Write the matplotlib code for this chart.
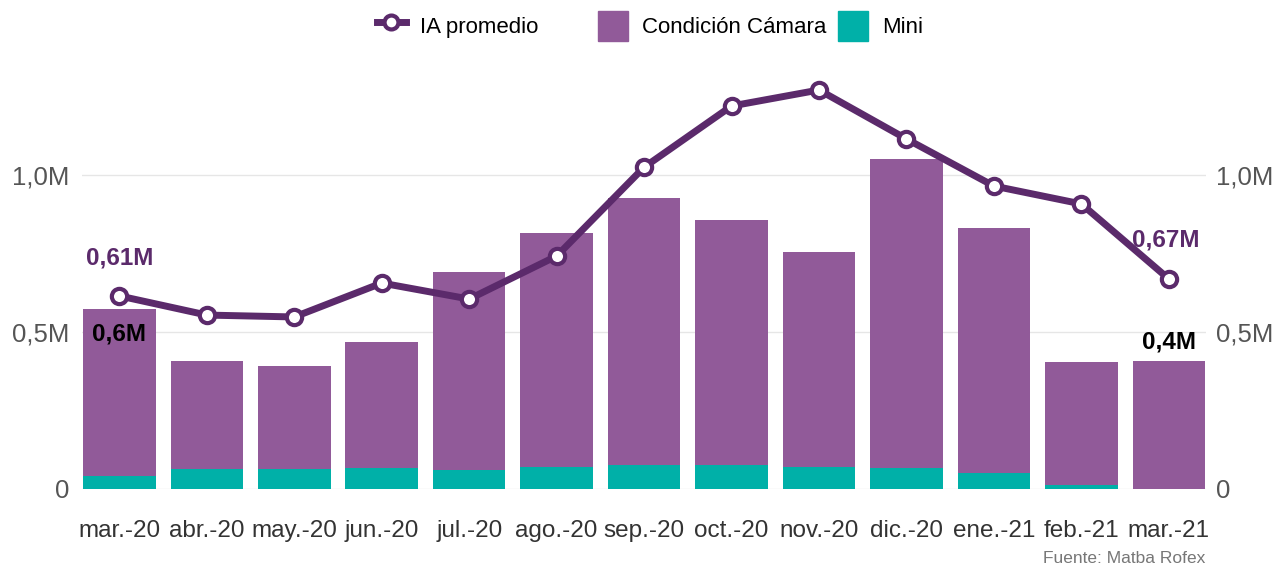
import matplotlib
matplotlib.use("Agg")
import matplotlib.pyplot as plt
from matplotlib.lines import Line2D
from matplotlib.patches import Patch

plt.rcParams['font.family'] = ['Liberation Sans', 'DejaVu Sans']

months = ["mar.-20", "abr.-20", "may.-20", "jun.-20", "jul.-20", "ago.-20", "sep.-20",
          "oct.-20", "nov.-20", "dic.-20", "ene.-21", "feb.-21", "mar.-21"]
total = [0.573, 0.408, 0.392, 0.468, 0.691, 0.815, 0.927, 0.857, 0.755, 1.051, 0.831, 0.404, 0.408]
mini = [0.041, 0.064, 0.064, 0.067, 0.061, 0.070, 0.076, 0.076, 0.070, 0.067, 0.051, 0.013, 0.0]
camara = [t - m for t, m in zip(total, mini)]
ia = [0.615, 0.554, 0.548, 0.656, 0.605, 0.742, 1.025, 1.220, 1.271, 1.115, 0.965, 0.908, 0.669]
yticks = [0, 0.5, 1.0]
ytick_labels = ["0", "0,5M", "1,0M"]

purple = "#915A99"
teal = "#00B0A8"
dark = "#5B2A6B"

fig = plt.figure(figsize=(12.78, 5.67), dpi=100)
ax = fig.add_axes([0.064, 0.1376, 0.88, 0.7214])
x = list(range(len(months)))
ax.bar(x, mini, width=0.83, color=teal, zorder=2)
ax.bar(x, camara, bottom=mini, width=0.83, color=purple, zorder=2)
ax.plot(x, ia, color=dark, lw=5, marker='o', markersize=11, markerfacecolor='white',
        markeredgecolor=dark, markeredgewidth=3, zorder=4)

ax.set_xlim(-0.43, 12.43)
ax.set_ylim(0, 1.303)
ax.set_yticks(yticks)
ax.set_yticklabels(ytick_labels)
ax.set_xticks(x)
ax.set_xticklabels(months)
ax.grid(axis='y', color='#E6E6E6', lw=1, zorder=0)
ax.set_axisbelow(True)
for s in ax.spines.values():
    s.set_visible(False)
ax.tick_params(axis='y', length=0, labelsize=18.5, labelcolor='#555555', pad=9)
ax.tick_params(axis='x', length=0, labelsize=17.5, labelcolor='#333333', pad=22)

ax2 = ax.twinx()
ax2.set_ylim(ax.get_ylim())
ax2.set_yticks(yticks)
ax2.set_yticklabels(ytick_labels)
for s in ax2.spines.values():
    s.set_visible(False)
ax2.tick_params(axis='y', length=0, labelsize=18.5, labelcolor='#555555', pad=7)

# data labels
ax.annotate("0,61M", (x[0], ia[0]), xytext=(0, 19), textcoords='offset points',
            ha='center', va='bottom', fontsize=17.5, fontweight='bold', color=dark, zorder=5)
ax.annotate("0,6M", (x[0], total[0]), xytext=(0, -10), textcoords='offset points',
            ha='center', va='top', fontsize=17.5, fontweight='bold', color='black', zorder=5)
ax.annotate("0,67M", (x[-1], ia[-1]), xytext=(-2, 20), textcoords='offset points',
            ha='center', va='bottom', fontsize=17.5, fontweight='bold', color=dark, zorder=5)
ax.annotate("0,4M", (x[-1], total[-1]), xytext=(0, 5), textcoords='offset points',
            ha='center', va='bottom', fontsize=17.5, fontweight='bold', color='black', zorder=5)

legend_items = [
    (Line2D([0], [0], color=dark, lw=5, marker='o', markersize=10, markerfacecolor='white',
            markeredgecolor=dark, markeredgewidth=3), "IA promedio", 377),
    (Patch(color=purple), "Condición Cámara", 598),
    (Patch(color=teal), "Mini", 838),
]
for h, lab, px in legend_items:
    fig.legend([h], [lab], loc='center left', bbox_to_anchor=(px / 1278, 0.955),
               frameon=False, fontsize=16, handlelength=1.3 if lab == "IA promedio" else 1.35,
               handleheight=1.7, handletextpad=0.65, borderpad=0, borderaxespad=0)

fig.text(0.943, 0.002, "Fuente: Matba Rofex", ha='right', va='bottom', fontsize=12.5, color='#777777')

fig.savefig("out.png", dpi=100)
